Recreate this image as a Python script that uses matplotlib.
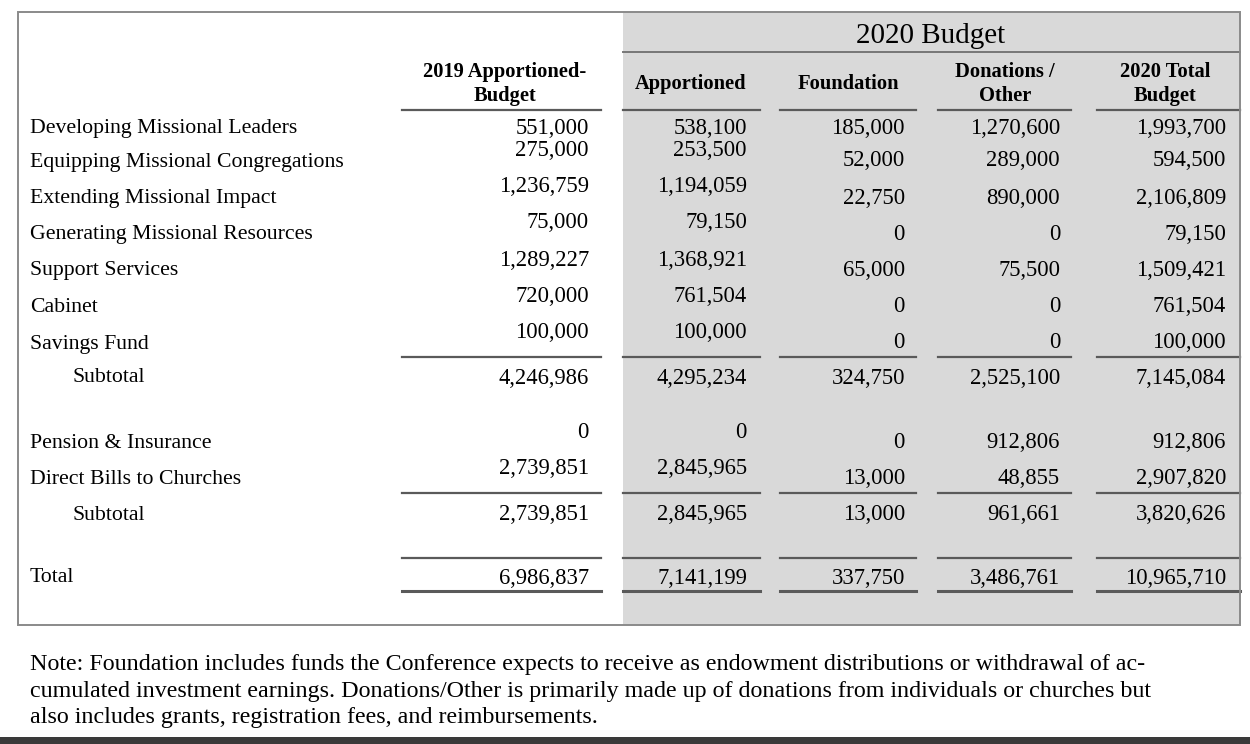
import matplotlib
matplotlib.use("Agg")
import matplotlib.pyplot as plt
from matplotlib.patches import Rectangle

# ---------------- data ----------------
row_labels = ["Developing Missional Leaders", "Equipping Missional Congregations",
              "Extending Missional Impact", "Generating Missional Resources",
              "Support Services", "Cabinet", "Savings Fund", "Subtotal",
              "Pension & Insurance", "Direct Bills to Churches", "Subtotal", "Total"]
col_headers = ["2019 Apportioned-\nBudget", "Apportioned", "Foundation",
               "Donations /\nOther", "2020 Total\nBudget"]
group_title = "2020 Budget"
budget_2019 = [551000, 275000, 1236759, 75000, 1289227, 720000, 100000, 4246986,
               0, 2739851, 2739851, 6986837]
apportioned_2020 = [538100, 253500, 1194059, 79150, 1368921, 761504, 100000, 4295234,
                    0, 2845965, 2845965, 7141199]
foundation_2020 = [185000, 52000, 22750, 0, 65000, 0, 0, 324750,
                   0, 13000, 13000, 337750]
donations_2020 = [1270600, 289000, 890000, 0, 75500, 0, 0, 2525100,
                  912806, 48855, 961661, 3486761]
total_2020 = [1993700, 594500, 2106809, 79150, 1509421, 761504, 100000, 7145084,
              912806, 2907820, 3820626, 10965710]
note = ("Note: Foundation includes funds the Conference expects to receive as endowment distributions or withdrawal of ac-\n"
        "cumulated investment earnings. Donations/Other is primarily made up of donations from individuals or churches but\n"
        "also includes grants, registration fees, and reimbursements.")

# ---------------- layout ----------------
W, H = 1250, 744
fig = plt.figure(figsize=(W / 100, H / 100), dpi=100)
ax = fig.add_axes([0, 0, 1, 1])
ax.set_xlim(0, W)
ax.set_ylim(H, 0)
ax.axis("off")

FONT = "Liberation Serif"
label_fs = 15.7
num_fs = 16.3
gray = "#d9d9d9"
linec = "#5a5a5a"

# grey panel + outer frame
ax.add_patch(Rectangle((623, 12), 1240 - 623, 625 - 12, facecolor=gray, edgecolor="none", zorder=0))
ax.add_patch(Rectangle((18, 12), 1240 - 18, 625 - 12, facecolor="none", edgecolor="#8a8a8a", lw=1.4, zorder=3))
# dark bar at the bottom
ax.add_patch(Rectangle((0, 737), W, 10, facecolor="#3a3a3a", edgecolor="none", zorder=3))

# group title
ax.text(931, 36, group_title, ha="center", va="center", fontsize=21, family=FONT)
ax.plot([623, 1240], [52, 52], color="#777777", lw=1.4)

# column extents (line spans) and right edges for numbers
col_spans = [(402, 601), (623, 760), (780, 916), (938, 1071), (1097, 1240)]
col_right = [589, 747, 905, 1060, 1226]
header_x = [505, 691, 848, 1005, 1165]
for (x0, x1), hdr, hx in zip(col_spans, col_headers, header_x):
    ax.text(hx, 84, hdr, ha="center", va="center",
            fontsize=14.8, fontweight="bold", family=FONT, linespacing=1.3)
    ax.plot([x0, x1], [110, 110], color=linec, lw=1.6)
    for yl in (357, 493, 558):
        ax.plot([x0, x1], [yl, yl], color=linec, lw=1.6)
    ax.plot([x0, x1], [591, 591], color=linec, lw=2.2)

# row labels
label_y = [129, 162, 199, 235, 271, 307, 344, 378, 444, 480, 515, 578]
indent = {7: 72, 10: 72}
for i, (lab, y) in enumerate(zip(row_labels, label_y)):
    ax.text(indent.get(i, 30), y, lab, ha="left", va="center", fontsize=label_fs, family=FONT)

# numbers
y_left = [128, 150, 187, 223, 261, 297, 333, 378, 433, 469, 514, 578]
y_right = [128, 161, 198, 234, 270, 306, 343, 378, 443, 479, 514, 578]
columns = [budget_2019, apportioned_2020, foundation_2020, donations_2020, total_2020]
col_rows_y = [y_left, y_left, y_right, y_right, y_right]
for vals, xr, ys in zip(columns, col_right, col_rows_y):
    for v, y in zip(vals, ys):
        ax.text(xr, y, f"{v:,}", ha="right", va="center", fontsize=num_fs, family=FONT)

# note
ax.text(30, 691, note, ha="left", va="center", fontsize=17.3, family=FONT, linespacing=1.36)

fig.savefig("out.png", dpi=100)
